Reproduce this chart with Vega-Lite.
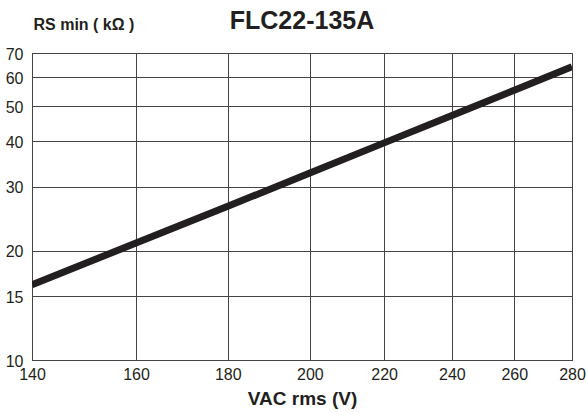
{
  "$schema": "https://vega.github.io/schema/vega-lite/v6.json",
  "width": 540,
  "height": 307,
  "autosize": {"type": "none"},
  "padding": {"left": 32, "top": 53, "right": 15, "bottom": 54},
  "background": "white",
  "config": {
    "font": "Liberation Sans",
    "view": {"stroke": "#444", "strokeWidth": 1}
  },
  "title": {
    "text": "FLC22-135A",
    "font": "Liberation Sans",
    "fontSize": 25,
    "fontWeight": "bold",
    "color": "#231f20",
    "anchor": "middle",
    "baseline": "alphabetic",
    "offset": -38
  },
  "data": {
    "values": [
      {"vac": 140, "rs": 16.1},
      {"vac": 160, "rs": 21.0},
      {"vac": 180, "rs": 26.5},
      {"vac": 200, "rs": 32.7},
      {"vac": 220, "rs": 39.6},
      {"vac": 240, "rs": 47.1},
      {"vac": 260, "rs": 55.3},
      {"vac": 280, "rs": 64.2}
    ]
  },
  "mark": {"type": "line", "color": "#231f20", "strokeWidth": 7, "clip": true},
  "encoding": {
    "x": {
      "field": "vac",
      "type": "quantitative",
      "scale": {"type": "log", "domain": [140, 280], "nice": false},
      "axis": {
        "values": [140, 160, 180, 200, 220, 240, 260, 280],
        "grid": true,
        "gridColor": "#444",
        "gridWidth": 1,
        "domainColor": "#444",
        "tickSize": 0,
        "labelFlush": false,
        "labelPadding": 6,
        "labelFontSize": 16,
        "labelColor": "#231f20",
        "labelFont": "Liberation Sans",
        "title": "VAC rms (V)",
        "titleFont": "Liberation Sans",
        "titleFontSize": 19,
        "titleFontWeight": "bold",
        "titleColor": "#231f20",
        "titlePadding": 7
      }
    },
    "y": {
      "field": "rs",
      "type": "quantitative",
      "scale": {"type": "log", "domain": [10, 70], "nice": false},
      "axis": {
        "values": [10, 15, 20, 30, 40, 50, 60, 70],
        "grid": true,
        "gridColor": "#444",
        "gridWidth": 1,
        "domainColor": "#444",
        "tickSize": 0,
        "labelFlush": false,
        "labelPadding": 9,
        "labelOffset": 1,
        "labelFontSize": 16,
        "labelColor": "#231f20",
        "labelFont": "Liberation Sans",
        "title": "RS min ( kΩ )",
        "titleFont": "Liberation Sans",
        "titleFontSize": 16,
        "titleFontWeight": "bold",
        "titleColor": "#231f20",
        "titleAngle": 0,
        "titleAlign": "left",
        "titleBaseline": "alphabetic",
        "titleX": 1,
        "titleY": -24
      }
    }
  }
}
